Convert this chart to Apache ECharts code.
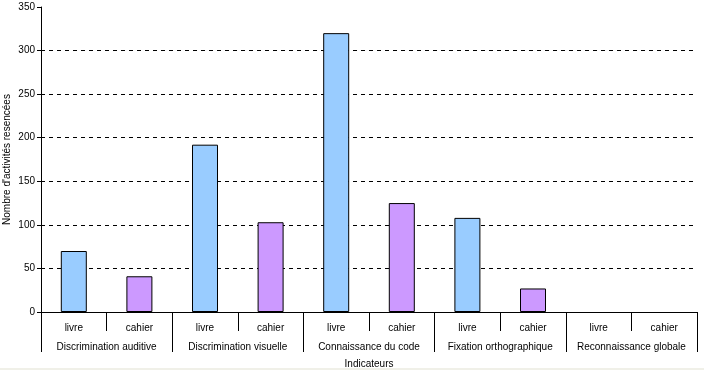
<!DOCTYPE html>
<html><head><meta charset="utf-8">
<script src="https://cdn.jsdelivr.net/npm/echarts@6/dist/echarts.min.js"></script>
<style>html,body{margin:0;padding:0;background:#fff;}#c{width:704px;height:370px;}</style>
</head><body><div id="c"></div>
<script>
const groups = ['Discrimination auditive','Discrimination visuelle','Connaissance du code','Fixation orthographique','Reconnaissance globale'];
const subCats = ['livre','cahier'];
const livreValues = [70, 192, 320, 108, 0];
const cahierValues = [41, 103, 125, 27, 0];
const yTicks = [0,50,100,150,200,250,300,350];

const cats = [], data = [];
groups.forEach((g,i)=>{
  const lv = livreValues[i], cv = cahierValues[i];
  cats.push(subCats[0]); data.push({value: lv, itemStyle:{color:'#99CCFF', borderWidth: lv ? 1 : 0}});
  cats.push(subCats[1]); data.push({value: cv, itemStyle:{color:'#CC99FF', borderWidth: cv ? 1 : 0}});
});
const font = 'Liberation Sans, Arial, sans-serif';
const chart = echarts.init(document.getElementById('c'), null, {renderer:'canvas'});
chart.setOption({
  animation:false,
  backgroundColor:'#fff',
  graphic:[{type:'rect',left:0,top:368,shape:{width:704,height:2},style:{fill:'#f0f0e8'},silent:true}],
  grid:{left:41,right:7,top:7,bottom:58,containLabel:false,outerBoundsMode:'none'},
  xAxis:[{
    type:'category', data:cats, position:'bottom',
    axisLine:{show:true,lineStyle:{color:'#000',width:1}},
    axisTick:{show:true,interval:0,alignWithLabel:false,length:19,lineStyle:{color:'#000'}},
    axisLabel:{interval:0,hideOverlap:false,color:'#000',fontFamily:font,fontSize:10,margin:11}
  },{
    type:'category', data:groups, position:'bottom',
    axisLine:{show:false},
    axisTick:{show:true,interval:0,alignWithLabel:false,length:40,lineStyle:{color:'#000'}},
    axisLabel:{interval:0,hideOverlap:false,color:'#000',fontFamily:font,fontSize:10,margin:30},
    name:'Indicateurs', nameLocation:'middle', nameGap:47, nameMoveOverlap:false,
    nameTextStyle:{color:'#000',fontFamily:font,fontSize:10}
  }],
  yAxis:{
    type:'value', min:yTicks[0], max:yTicks[yTicks.length-1], interval:50,
    axisLine:{show:true,lineStyle:{color:'#000'}},
    axisTick:{show:true,length:4,lineStyle:{color:'#000'}},
    axisLabel:{color:'#000',fontFamily:font,fontSize:10,margin:6},
    splitLine:{show:true,lineStyle:{type:[4,4],width:1,color:['#000','#000','#000','#000','#000','#000','#000','rgba(0,0,0,0)']}},
    name:"Nombre d'activités resencées", nameLocation:'middle', nameGap:29, nameRotate:90, nameMoveOverlap:false,
    nameTextStyle:{color:'#000',fontFamily:font,fontSize:10}
  },
  series:[{
    type:'bar', xAxisIndex:0, data:data, barWidth:26,
    itemStyle:{borderColor:'#000',borderWidth:1}
  }]
});
</script></body></html>
